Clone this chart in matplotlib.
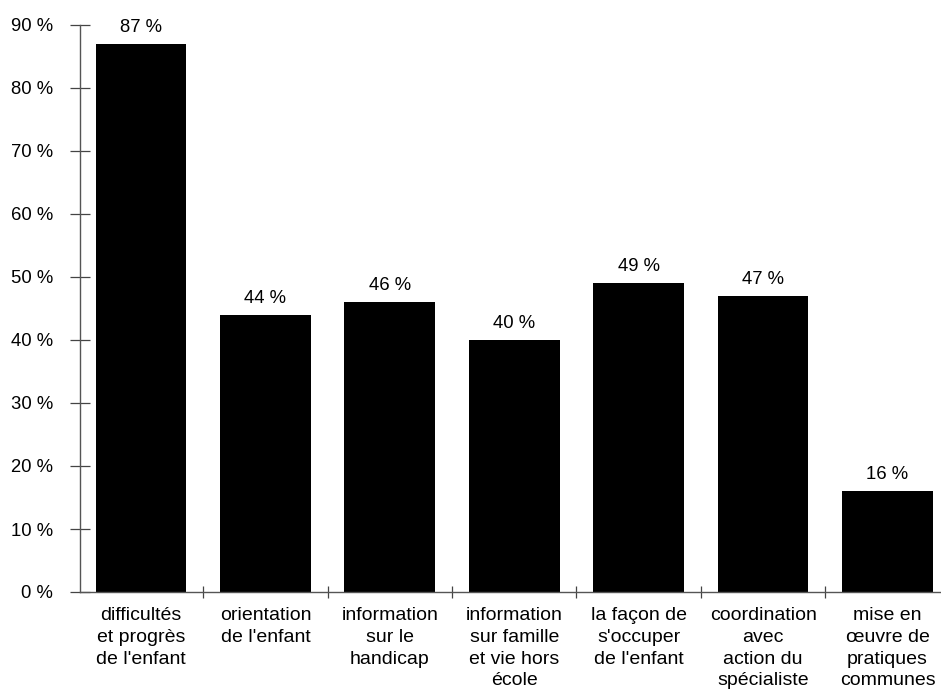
import matplotlib.pyplot as plt
import numpy as np

plt.rcParams['font.family'] = ['Liberation Sans', 'DejaVu Sans']

# Catégories et pourcentages
categories = ["difficultés\net progrès\nde l'enfant",
              "orientation\nde l'enfant",
              "information\nsur le\nhandicap",
              "information\nsur famille\net vie hors\nécole",
              "la façon de\ns'occuper\nde l'enfant",
              "coordination\navec\naction du\nspécialiste",
              "mise en\nœuvre de\npratiques\ncommunes"]
valeurs = [87, 44, 46, 40, 49, 47, 16]
etiquettes = ["87 %", "44 %", "46 %", "40 %", "49 %", "47 %", "16 %"]
graduations = [0, 10, 20, 30, 40, 50, 60, 70, 80, 90]

fig = plt.figure(figsize=(9.41, 6.96), dpi=100)
ax = fig.add_axes([80/941, 104/696, 861/941, 567/696])

x = np.arange(len(valeurs))
ax.bar(x, valeurs, width=0.73, color='black', zorder=2)

for xi, v, txt in zip(x, valeurs, etiquettes):
    ax.text(xi, v + 1.3, txt, ha='center', va='bottom', fontsize=13.3, clip_on=False)

ax.set_xlim(-0.49, 6.43)
ax.set_ylim(0, 90)

ax.set_yticks(graduations)
ax.set_yticklabels([f"{g} %" for g in graduations], fontsize=13.3)
ax.tick_params(axis='y', direction='inout', length=14, width=0.9, color='#444444', pad=12.5)

ax.set_xticks(x)
ax.set_xticklabels(categories, fontsize=14, va='top', linespacing=1.36)
ax.tick_params(axis='x', which='major', length=0, pad=11)
ax.set_xticks(x[:-1] + 0.5, minor=True)
ax.tick_params(axis='x', which='minor', direction='inout', length=9, width=0.9, color='#444444')

for s in ['top', 'right']:
    ax.spines[s].set_visible(False)
ax.spines['left'].set_color('#555555')
ax.spines['bottom'].set_color('#555555')
ax.spines['left'].set_linewidth(1.0)
ax.spines['bottom'].set_linewidth(1.0)

plt.savefig("out.png", dpi=100)
